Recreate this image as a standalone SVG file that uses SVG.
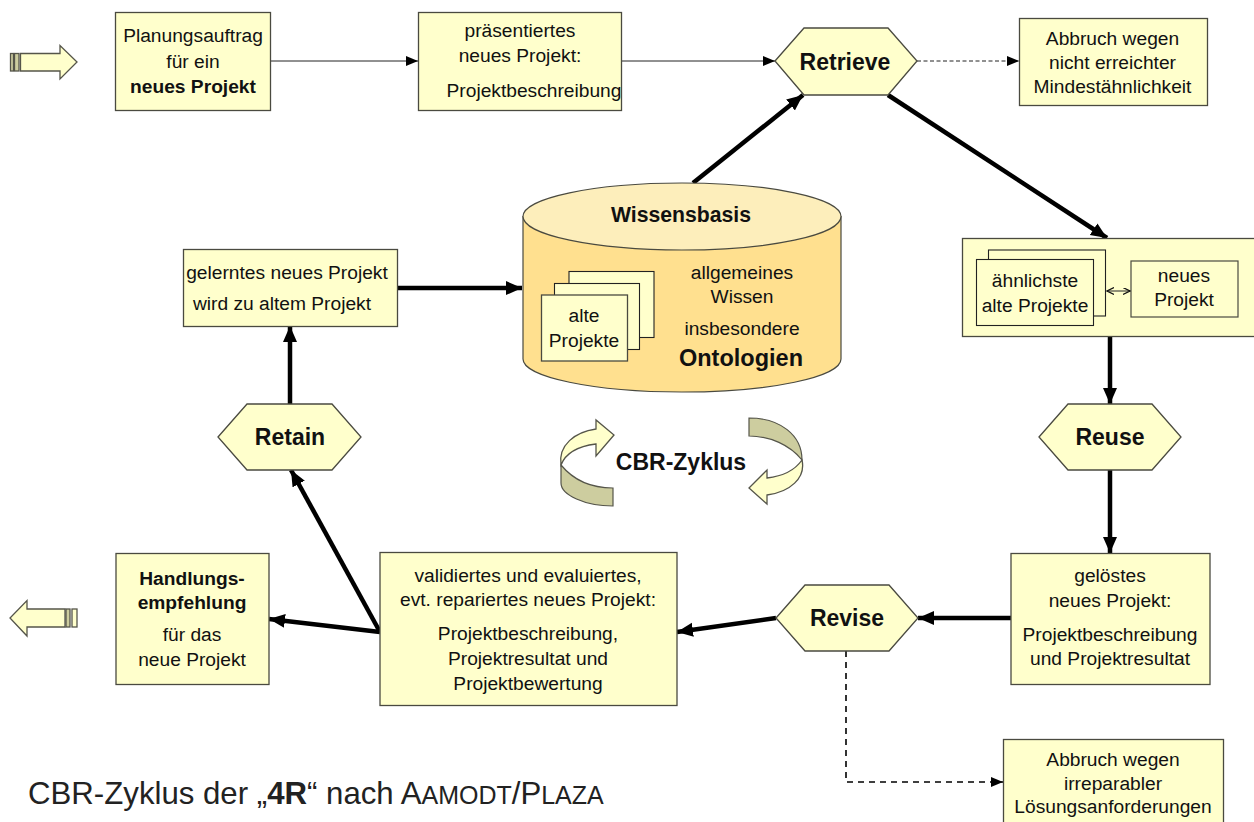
<svg xmlns="http://www.w3.org/2000/svg" width="1254" height="822" viewBox="0 0 1254 822">
<style>
text{font-family:"Liberation Sans",Arial,sans-serif;font-size:19.200px;fill:#111;text-anchor:middle}
.b{font-weight:700}
.h{font-weight:700;font-size:23px}
.box{fill:#ffffcc;stroke:#4a4a40;stroke-width:1.3}
.hex{fill:#ffffcc;stroke:#4a4a40;stroke-width:1.3}
.thick{fill:none;stroke:#000;stroke-width:4.500}
.thin{fill:none;stroke:#222;stroke-width:1}
.arrow{fill:#ffffcc;stroke:#55554a;stroke-width:1.3}
.band{fill:#cdcd9f;stroke:#55554a;stroke-width:1.2}
</style>
<defs>
<marker id="big" markerUnits="userSpaceOnUse" markerWidth="18" markerHeight="16" refX="16" refY="7" orient="auto"><path d="M0,0L16,7L0,14Z" fill="#000"/></marker>
<marker id="small" markerUnits="userSpaceOnUse" markerWidth="13" markerHeight="11" refX="12" refY="5" orient="auto"><path d="M0,0L12,5L0,10Z" fill="#000"/></marker>
<marker id="tiny" markerUnits="userSpaceOnUse" markerWidth="8" markerHeight="8" refX="7" refY="3.500" orient="auto-start-reverse"><path d="M0,0L7,3.500L0,7" fill="none" stroke="#111" stroke-width="1.200"/></marker>
</defs>

<g id="connectors">
<path class="thin" d="M270,61H418" marker-end="url(#small)"/>
<path class="thin" d="M621,61H775" marker-end="url(#small)"/>
<path class="thin" d="M917,61H1019" stroke-dasharray="4 2.500" marker-end="url(#small)"/>
<path class="thick" d="M693,183L803,95" marker-end="url(#big)"/>
<path class="thick" d="M888,95L1107,238" marker-end="url(#big)"/>
<path class="thick" d="M397,288H522" marker-end="url(#big)"/>
<path class="thick" d="M1110,337V404" marker-end="url(#big)"/>
<path class="thick" d="M1110,470V553" marker-end="url(#big)"/>
<path class="thick" d="M1011,618H918" marker-end="url(#big)"/>
<path class="thick" d="M776,618L677,632" marker-end="url(#big)"/>
<path class="thick" d="M380,632L269,619" marker-end="url(#big)"/>
<path class="thick" d="M380,632L291,470" marker-end="url(#big)"/>
<path class="thick" d="M290,404V326" marker-end="url(#big)"/>
<path class="thin" d="M846,651V782H1003" style="stroke-width:1.600;stroke:#000" stroke-dasharray="6 5" marker-end="url(#small)"/>
</g>

<g id="input-arrow">
<rect class="arrow" x="10.500" y="53.500" width="3" height="17.500" style="fill:#cdcd9f"/>
<rect class="arrow" x="14.500" y="53.500" width="4.500" height="17.500" style="fill:#cdcd9f"/>
<path class="arrow" d="M20.500,53.500H60V45.500L77,62L60,79V71H20.500Z"/>
</g>
<g id="output-arrow">
<rect class="arrow" x="66" y="609" width="4" height="18" style="fill:#cdcd9f"/>
<rect class="arrow" x="72" y="609" width="5" height="18"/>
<path class="arrow" d="M65,609H27V600.500L10,618L27,636V627H65Z"/>
</g>

<g id="planungsauftrag">
<rect class="box" x="115.500" y="12.500" width="155" height="98"/>
<text x="193" y="42">Planungsauftrag</text><text x="193" y="68">für ein</text><text x="193" y="93" class="b">neues Projekt</text>
</g>
<g id="praesentiert">
<rect class="box" x="418.500" y="12.500" width="203" height="98"/>
<text x="520" y="36.500">präsentiertes</text><text x="520" y="61.500">neues Projekt:</text><text x="534" y="97">Projektbeschreibung</text>
</g>
<g id="retrieve">
<polygon class="hex" points="775,61 804,28 888,28 917,61 888,95 804,95"/>
<text x="845" y="70" class="h">Retrieve</text>
</g>
<g id="abbruch-1">
<rect class="box" x="1019.500" y="18.500" width="188" height="87"/>
<text x="1112.500" y="45">Abbruch wegen</text><text x="1112.500" y="69">nicht erreichter</text><text x="1112.500" y="93">Mindestähnlichkeit</text>
</g>

<g id="wissensbasis">
<path d="M523,216.500V359C523,377 594,392 682,392S841,377 841,359V216.500Z" fill="#ffe08f" stroke="#4a4a40" stroke-width="1.200"/>
<ellipse cx="682" cy="216.500" rx="159" ry="33.500" fill="#fdeebb" stroke="#4a4a40" stroke-width="1.200"/>
<text x="681" y="222" class="b" style="font-size:21.200px">Wissensbasis</text>
<rect x="569" y="271.500" width="85" height="66" fill="#ffffcc" stroke="#222" stroke-width="1.100"/>
<rect x="554.500" y="283.500" width="85" height="66" fill="#ffffcc" stroke="#222" stroke-width="1.100"/>
<rect x="541.500" y="295" width="86" height="66" fill="#ffffcc" stroke="#4a4a40" stroke-width="1.300"/>
<text x="584" y="322">alte</text><text x="584" y="347">Projekte</text>
<text x="742" y="279">allgemeines</text><text x="742" y="303">Wissen</text>
<text x="742" y="335">insbesondere</text>
<text x="741" y="366" style="font-weight:700;font-size:23.500px">Ontologien</text>
</g>

<g id="gelernt">
<rect class="box" x="183.500" y="249.500" width="214" height="77"/>
<text x="287" y="279">gelerntes neues Projekt</text><text x="282" y="310">wird zu altem Projekt</text>
</g>
<g id="retain">
<polygon class="hex" points="218,437 247,404 332,404 361,437 332,470 247,470"/>
<text x="290" y="445" class="h">Retain</text>
</g>

<g id="zyklus">
<path class="band" d="M561,465C575,482 595,488 613,488V506C585,506 561,495 561,483Z"/>
<path class="arrow" d="M561,465C558,445 575,432 596,429V420L614,435L596,456V444C580,446 566,452 561,465Z"/>
<path class="band" d="M749,418C780,418 802,435 802,460C790,445 770,436 749,436Z"/>
<path class="arrow" d="M802,460C795,470 785,476 767,478V470L749,488L767,504V495C790,492 806,478 802,460Z"/>
<text x="681" y="470" class="h">CBR-Zyklus</text>
</g>

<g id="aehnlich">
<rect class="box" x="962.500" y="238.500" width="300" height="98"/>
<rect x="988.500" y="250" width="117" height="66" fill="#ffffcc" stroke="#222" stroke-width="1.100"/>
<rect x="976.500" y="259.500" width="117" height="66" fill="#ffffcc" stroke="#222" stroke-width="1.100"/>
<text x="1035" y="287">ähnlichste</text><text x="1035" y="312">alte Projekte</text>
<rect x="1131" y="261" width="107" height="56" fill="#ffffcc" stroke="#4a4a40" stroke-width="1.200"/>
<text x="1184" y="282">neues</text><text x="1184" y="306">Projekt</text>
<path class="thin" d="M1107,291H1130" marker-start="url(#tiny)" marker-end="url(#tiny)"/>
</g>
<g id="reuse">
<polygon class="hex" points="1039,437 1068,404 1152,404 1181,437 1152,470 1068,470"/>
<text x="1110" y="445" class="h">Reuse</text>
</g>
<g id="geloest">
<rect class="box" x="1011" y="553.500" width="199" height="131"/>
<text x="1110" y="582">gelöstes</text><text x="1110" y="607">neues Projekt:</text><text x="1110" y="641">Projektbeschreibung</text><text x="1110" y="665">und Projektresultat</text>
</g>
<g id="revise">
<polygon class="hex" points="776,618 805,585 889,585 918,618 889,651 805,651"/>
<text x="847" y="626" class="h">Revise</text>
</g>
<g id="validiert">
<rect class="box" x="380" y="552.500" width="297" height="153"/>
<text x="528" y="582">validiertes und evaluiertes,</text><text x="528" y="606">evt. repariertes neues Projekt:</text><text x="528" y="639.500">Projektbeschreibung,</text><text x="528" y="665">Projektresultat und</text><text x="528" y="690">Projektbewertung</text>
</g>
<g id="handlung">
<rect class="box" x="116" y="553.500" width="153" height="131"/>
<text x="192" y="584.500" class="b">Handlungs-</text><text x="192" y="609" class="b">empfehlung</text><text x="192" y="641">für das</text><text x="192" y="666">neue Projekt</text>
</g>
<g id="abbruch-2">
<rect class="box" x="1003.500" y="739.500" width="220" height="90"/>
<text x="1113" y="766">Abbruch wegen</text><text x="1113" y="790">irreparabler</text><text x="1113" y="813">Lösungsanforderungen</text>
</g>
<text x="28" y="804" style="text-anchor:start;font-size:31.200px;fill:#222">CBR-Zyklus der „<tspan font-weight="700">4R</tspan>“ nach A<tspan font-size="25">AMODT</tspan>/P<tspan font-size="25">LAZA</tspan></text>
</svg>
